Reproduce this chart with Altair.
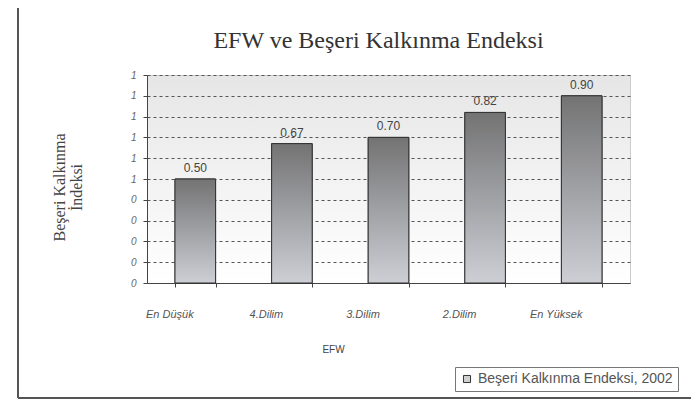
import altair as alt
import pandas as pd

categories = ["En Düşük", "4.Dilim", "3.Dilim", "2.Dilim", "En Yüksek"]
values = [0.50, 0.67, 0.70, 0.82, 0.90]
series_name = "Beşeri Kalkınma Endeksi, 2002"
y_ticks = [0, 0.1, 0.2, 0.3, 0.4, 0.5, 0.6, 0.7, 0.8, 0.9, 1.0]

df = pd.DataFrame({"cat": categories, "val": values, "series": [series_name] * len(categories)})

W, H = 483, 208

bar_gradient = alt.LinearGradient(
    gradient="linear", x1=0, y1=0, x2=0, y2=1,
    stops=[alt.GradientStop(offset=0, color="#737373"),
           alt.GradientStop(offset=0.5, color="#a0a1a5"),
           alt.GradientStop(offset=1, color="#cdcfd5")],
)

x_enc = alt.X(
    "cat:N", sort=categories,
    scale=alt.Scale(paddingInner=0.58, paddingOuter=0.29),
    axis=alt.Axis(
        title="EFW", labelAngle=0, labelFont="Liberation Sans", labelFontStyle="italic",
        labelFontSize=11, labelColor="#555555", labelOffset=-26, labelPadding=21,
        tickBand="extent", tickSize=4, tickColor="#444444", domainColor="#444444",
        titleFont="Liberation Sans", titleFontSize=10, titleFontWeight="normal",
        titleColor="#444444", titlePadding=25, titleX=186,
    ),
)
y_enc = alt.Y(
    "val:Q",
    scale=alt.Scale(domain=[0, 1], nice=False),
    axis=alt.Axis(
        values=y_ticks, labelExpr="format(datum.value, '.0f')",
        title=["Beşeri Kalkınma", "İndeksi"],
        labelFont="Liberation Sans", labelFontStyle="italic", labelFontSize=10,
        labelColor="#666666", labelPadding=7, tickSize=4, tickColor="#444444",
        labelOverlap=False,
        domainColor="#444444", grid=True, gridDash=[3, 3], gridColor="#555555",
        gridWidth=1, titleFont="Liberation Serif", titleFontSize=16,
        titleFontWeight="normal", titleColor="#444444", titlePadding=46,
        titleLineHeight=17, titleY=112,
    ),
)

legend_bars = alt.Chart(df).mark_bar(stroke="#333333", strokeWidth=1).encode(
    x=x_enc, y=y_enc,
    color=alt.Color(
        "series:N", scale=alt.Scale(range=["#d0d0d0"]),
        legend=alt.Legend(
            title=None, orient="none", legendX=308, legendY=292,
            symbolType="square", symbolSize=50, symbolStrokeColor="#333333",
            symbolStrokeWidth=1, labelFont="Liberation Sans", labelFontSize=14,
            labelColor="#555555", strokeColor="#777777", padding=5,
            fillColor="#ffffff", labelLimit=400, labelOffset=4,
        ),
    ),
)

bars = alt.Chart(df).mark_bar(fill=bar_gradient, stroke="#333333", strokeWidth=1).encode(
    x=x_enc, y=y_enc
)

labels = alt.Chart(df).mark_text(
    dy=-11, font="Liberation Sans", fontSize=12, color="#444444"
).encode(
    x=x_enc, y=y_enc, text=alt.Text("val:Q", format=".2f")
)

frame_data = alt.Data(values=[{"k": 1}])
frame_left = alt.Chart(frame_data).mark_rule(color="#555555", strokeWidth=2).encode(
    x=alt.value(-129), y=alt.value(-70), y2=alt.value(323)
)
frame_top = alt.Chart(frame_data).mark_rule(color="#555555", strokeWidth=2).encode(
    x=alt.value(-129), x2=alt.value(545), y=alt.value(-70)
)
frame_bottom = alt.Chart(frame_data).mark_rule(color="#555555", strokeWidth=2).encode(
    x=alt.value(-129), x2=alt.value(545), y=alt.value(323)
)

chart = alt.layer(
    legend_bars, bars, labels, frame_left, frame_top, frame_bottom
).properties(
    width=W, height=H,
    title=alt.TitleParams(
        "EFW ve Beşeri Kalkınma Endeksi", font="Liberation Serif", fontSize=24,
        fontWeight="normal", color="#333333", anchor="middle", dx=-10, offset=0,
        dy=49, frame="group",
    ),
    autosize=alt.AutoSizeParams(type="none"),
    padding={"left": 139, "top": 67, "right": 61, "bottom": 119},
    background="#ffffff",
).configure_view(
    stroke="#cccccc",
    fill={"expr": "{gradient: 'linear', x1: 0, y1: 0, x2: 0, y2: 1, stops: [{offset: 0, color: '#e6e6e6'}, {offset: 1, color: '#ffffff'}]}"},
)

chart.save("out.html", embed_options={"renderer": "svg", "actions": False})
